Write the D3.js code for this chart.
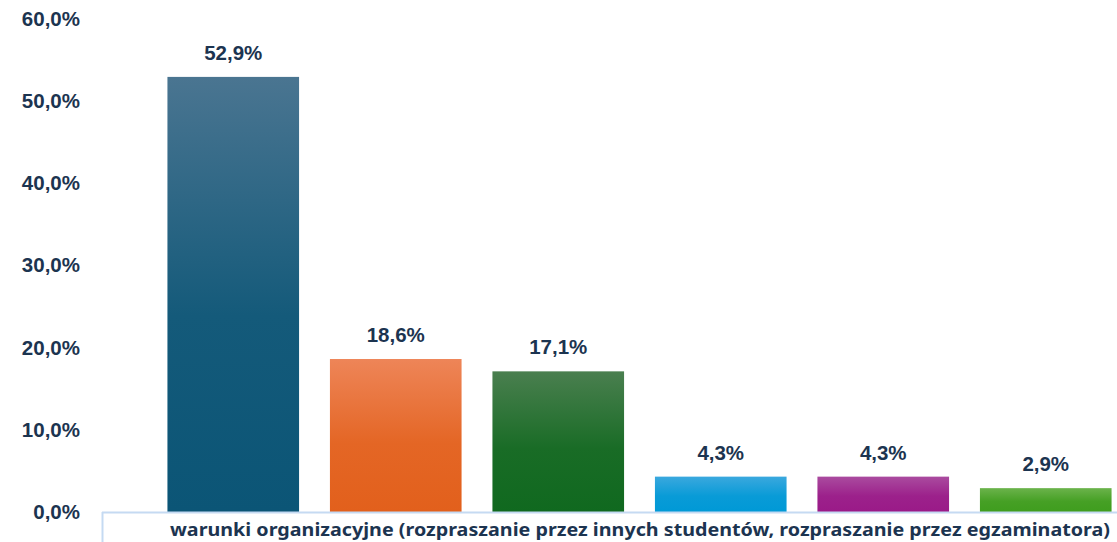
<!DOCTYPE html>
<html>
<head>
<meta charset="utf-8">
<script src="https://cdn.jsdelivr.net/npm/d3@7"></script>
<style>
  html, body { margin: 0; padding: 0; background: #ffffff; }
  svg { display: block; }
</style>
</head>
<body>
<svg id="chart" width="1117" height="542"></svg>
<script>
const categories = ["A", "B", "C", "D", "E", "F"];
const values = [52.9, 18.6, 17.1, 4.3, 4.3, 2.9];
const yTicks = [0, 10, 20, 30, 40, 50, 60];
const categoryLabel = "warunki organizacyjne (rozpraszanie przez innych studentów, rozpraszanie przez egzaminatora)";
const topColors = ["#4a7591", "#ee8558", "#4a7f4f", "#3aa8de", "#aa4b9f", "#6bb34b"];
const baseColors = ["#0b5576", "#e2601c", "#10691f", "#0099d6", "#9a1a88", "#3f9d1e"];

const svg = d3.select("#chart");
const fmt = v => v.toFixed(1).replace(".", ",") + "%";

const y = d3.scaleLinear().domain([0, 60]).range([512, 18.5]);
const x = d3.scaleBand().domain(categories).range([152, 1127]).paddingInner(0.19).paddingOuter(0.095);

const defs = svg.append("defs");
categories.forEach((c, i) => {
  const g = defs.append("linearGradient").attr("id", "grad" + i)
    .attr("x1", 0).attr("y1", 0).attr("x2", 0).attr("y2", 1);
  g.append("stop").attr("offset", "0%").attr("stop-color", topColors[i]);
  g.append("stop").attr("offset", "55%").attr("stop-color", d3.interpolateRgb(topColors[i], baseColors[i])(0.85));
  g.append("stop").attr("offset", "100%").attr("stop-color", baseColors[i]);
});

// Y axis labels
const yAxis = d3.axisLeft(y).tickValues(yTicks).tickFormat(d => d.toFixed(1).replace(".", ",") + "%").tickSize(0).tickPadding(0);
const ya = svg.append("g").attr("transform", "translate(80,0)").call(yAxis);
ya.select(".domain").remove();
ya.selectAll("text")
  .attr("font-family", "Liberation Sans, Arial, sans-serif")
  .attr("font-weight", "bold")
  .attr("font-size", 20.5)
  .attr("fill", "#1c3450");

// Bars
svg.append("g").selectAll("rect").data(values).join("rect")
  .attr("x", (d, i) => x(categories[i]))
  .attr("width", x.bandwidth())
  .attr("y", d => y(d))
  .attr("height", d => y(0) - y(d))
  .attr("fill", (d, i) => `url(#grad${i})`);

// Value labels
svg.append("g").selectAll("text").data(values).join("text")
  .attr("x", (d, i) => x(categories[i]) + x.bandwidth() / 2)
  .attr("y", d => y(d) - 17)
  .attr("text-anchor", "middle")
  .attr("font-family", "Liberation Sans, Arial, sans-serif")
  .attr("font-weight", "bold")
  .attr("font-size", 20.5)
  .attr("fill", "#1c3450")
  .text(d => fmt(d));

// X axis line + left tick
svg.append("line").attr("x1", 102).attr("x2", 1117).attr("y1", 512.5).attr("y2", 512.5)
  .attr("stroke", "#c5daf2").attr("stroke-width", 2);
svg.append("line").attr("x1", 102.5).attr("x2", 102.5).attr("y1", 512).attr("y2", 542)
  .attr("stroke", "#c5daf2").attr("stroke-width", 2);

// Category label
svg.append("text")
  .attr("x", 640).attr("y", 536)
  .attr("text-anchor", "middle")
  .attr("font-family", "Noto Sans, sans-serif")
  .attr("font-weight", "bold")
  .attr("font-size", 17.5)
  .attr("fill", "#1c3450")
  .attr("textLength", 940)
  .attr("lengthAdjust", "spacingAndGlyphs")
  .text(categoryLabel);
</script>
</body>
</html>
